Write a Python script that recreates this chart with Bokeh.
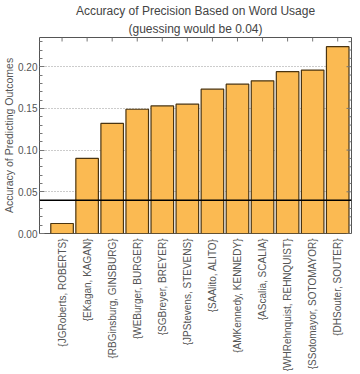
import math
from bokeh.plotting import figure
from bokeh.models import (Range1d, Span, Title, FixedTicker, NumeralTickFormatter)
from bokeh.embed import file_html
from bokeh.resources import INLINE

justices = ["{JGRoberts, ROBERTS}", "{EKagan, KAGAN}", "{RBGinsburg, GINSBURG}",
            "{WEBurger, BURGER}", "{SGBreyer, BREYER}", "{JPStevens, STEVENS}",
            "{SAAlito, ALITO}", "{AMKennedy, KENNEDY}", "{AScalia, SCALIA}",
            "{WHRehnquist, REHNQUIST}", "{SSotomayor, SOTOMAYOR}", "{DHSouter, SOUTER}"]
accuracy = [0.012, 0.090, 0.132, 0.149, 0.153, 0.155,
            0.173, 0.179, 0.183, 0.194, 0.196, 0.224]
guess_level = 0.04
positions = list(range(1, len(justices) + 1))
y_major = [0.00, 0.05, 0.10, 0.15, 0.20]
y_minor = [0.01, 0.02, 0.03, 0.04, 0.06, 0.07, 0.08, 0.09, 0.11, 0.12, 0.13, 0.14,
           0.16, 0.17, 0.18, 0.19, 0.21, 0.22, 0.23]

X0, X1 = 0.1, 12.55
Y0, Y1 = 0.0, 0.235

FONT = "Liberation Sans"
TXT = "#555555"
TICK = "#777777"

p = figure(frame_width=312, frame_height=196,
           x_range=Range1d(X0, X1), y_range=Range1d(Y0, Y1),
           output_backend="svg", toolbar_location=None,
           min_border_left=0, min_border_right=4, min_border_top=0, min_border_bottom=0)
p.background_fill_color = "white"
p.border_fill_color = "white"
p.outline_line_color = "#555555"
p.outline_line_width = 1

p.vbar(x=positions, top=accuracy, width=0.9, bottom=0,
       fill_color="#FBBA52", line_color="#4a3410", line_width=1.2)

p.add_layout(Span(location=guess_level, dimension="width",
                  line_color="black", line_width=1.5))

# inward ticks on top and right frame edges
p.ray(x=positions, y=[Y1] * len(positions), length=4, length_units="screen",
      angle=-math.pi / 2, line_color=TICK, line_width=1)
p.ray(x=[X1] * len(y_major), y=y_major, length=5, length_units="screen",
      angle=math.pi, line_color=TICK, line_width=1)
p.ray(x=[X1] * len(y_minor), y=y_minor, length=3, length_units="screen",
      angle=math.pi, line_color=TICK, line_width=1)

# x axis (bottom)
xa = p.xaxis[0]
xa.ticker = FixedTicker(ticks=positions)
xa.major_label_overrides = {i: n for i, n in zip(positions, justices)}
xa.major_label_orientation = math.pi / 2
xa.major_label_text_font = FONT
xa.major_label_text_font_size = "10px"
xa.major_label_text_color = TXT
xa.major_label_standoff = 5
xa.axis_line_color = None
xa.major_tick_in = 0
xa.major_tick_out = 0
xa.minor_tick_line_color = None

# y axis (left)
ya = p.yaxis[0]
ya.ticker = FixedTicker(ticks=y_major, minor_ticks=y_minor)
ya.formatter = NumeralTickFormatter(format="0.00")
ya.axis_label = "Accuracy of Predicting Outcomes"
ya.axis_label_text_font = FONT
ya.axis_label_text_font_size = "10.5px"
ya.axis_label_text_font_style = "normal"
ya.axis_label_text_color = TXT
ya.axis_label_standoff = 0
ya.major_label_text_font = FONT
ya.major_label_text_font_size = "10px"
ya.major_label_text_color = TXT
ya.major_label_standoff = 2
ya.axis_line_color = None
ya.major_tick_in = 5
ya.major_tick_out = 0
ya.minor_tick_in = 3
ya.minor_tick_out = 0
ya.major_tick_line_color = TICK
ya.minor_tick_line_color = TICK

p.xgrid.grid_line_color = None
p.ygrid.ticker = FixedTicker(ticks=y_major[1:])
p.ygrid.grid_line_color = "#999999"
p.ygrid.grid_line_dash = "1 2"
p.ygrid.grid_line_width = 1

p.add_layout(Title(text="(guessing would be 0.04)", align="center",
                   text_font=FONT, text_font_size="12px", text_font_style="normal",
                   text_color="#444444", standoff=3), "above")
p.add_layout(Title(text="Accuracy of Precision Based on Word Usage", align="center",
                   text_font=FONT, text_font_size="12px", text_font_style="normal",
                   text_color="#444444", standoff=2), "above")

open("out.html", "w").write(file_html(p, INLINE))
